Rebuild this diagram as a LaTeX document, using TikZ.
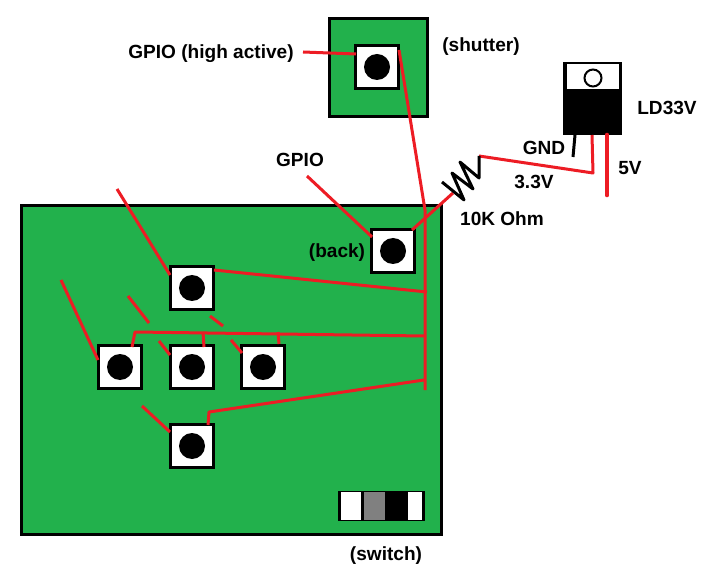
\documentclass[tikz,border=0pt]{standalone}
\usepackage{fontspec}
\setmainfont{Liberation Sans}
\usetikzlibrary{positioning}
\definecolor{boardgreen}{RGB}{34,177,76}
\definecolor{wirered}{RGB}{237,28,36}
\tikzset{
    board/.style={draw=black, fill=boardgreen, line width=2.25pt},
    pushbtn/.style={draw=black, fill=white, line width=2.25pt, minimum size=32.25pt, inner sep=0pt},
    btndot/.style={circle, fill=black, minimum size=19.5pt, inner sep=0pt},
    wire/.style={wirered, line width=2.25pt, line join=round},
    lbl/.style={font=\bfseries\fontsize{14.3pt}{16pt}\selectfont, inner sep=0pt}
}

\begin{document}
\begin{tikzpicture}[x=0.75pt, y=-0.75pt]
    \useasboundingbox (0,0) rectangle (706,573);

    % Boards
    \draw[board] (329.5,18.5) rectangle (427.5,117);
    \draw[board] (21.5,205.5) rectangle (441.5,534.5);

    % Buttons
    \node[pushbtn] (shutter) at (377,67) {};
    \node[pushbtn] (back) at (393,251) {};
    \node[pushbtn] (top) at (192,288) {};
    \node[pushbtn] (left) at (120,367) {};
    \node[pushbtn] (mid) at (192,367) {};
    \node[pushbtn] (right) at (263,367) {};
    \node[pushbtn] (bottom) at (192,446) {};
    \node[btndot] (shutterdot) at (shutter) {};
    \node[btndot] (backdot) at (back) {};
    \node[btndot] (topdot) at (top) {};
    \node[btndot] (leftdot) at (left) {};
    \node[btndot] (middot) at (mid) {};
    \node[btndot] (rightdot) at (right) {};
    \node[btndot] (bottomdot) at (bottom) {};

    % Switch
    \node[draw=black, fill=black, line width=2.25pt, minimum width=63pt, minimum height=20.5pt, inner sep=0pt] (switch) at (381.5,506) {};
    \node[fill=white, minimum width=15pt, minimum height=20.5pt, inner sep=0pt] (swa) at (351,506) {};
    \node[fill=black!50, minimum width=15.75pt, minimum height=20.5pt, inner sep=0pt] (swb) at (374.5,506) {};
    \node[fill=white, minimum width=10.5pt, minimum height=20.5pt, inner sep=0pt] (swc) at (415,506) {};

    % Regulator
    \node[fill=black, minimum width=44.25pt, minimum height=54.75pt, inner sep=0pt] (ldbody) at (592.5,98.5) {};
    \node[fill=white, minimum width=39pt, minimum height=18.75pt, inner sep=0pt] (ldtab) at (592.5,77) {};
    \node[circle, draw=black, fill=white, line width=1.5pt, minimum size=12.75pt, inner sep=0pt] (ldhole) at (593,78) {};

    % Free wire ends
    \coordinate (shutterin) at (303,52);
    \coordinate (shutterpin) at (356,54);
    \coordinate (shutterout) at (399,50);
    \coordinate (busbend) at (425,210);
    \coordinate (busend) at (425,390);
    \coordinate (backin) at (307,176);
    \coordinate (backpin) at (372,237);
    \coordinate (backout) at (412,230);
    \coordinate (topin) at (117,189);
    \coordinate (toppin) at (170,275);
    \coordinate (topout) at (214,270);
    \coordinate (topbus) at (427,292);
    \coordinate (leftin) at (61,280);
    \coordinate (leftpin) at (98,360);
    \coordinate (stubaa) at (128,296);
    \coordinate (stubab) at (149,323);
    \coordinate (stubba) at (159,341);
    \coordinate (stubbb) at (170,355);
    \coordinate (stubca) at (210,316);
    \coordinate (stubcb) at (223,326);
    \coordinate (stubda) at (231,340);
    \coordinate (stubdb) at (242,353);
    \coordinate (stubea) at (142,406);
    \coordinate (stubeb) at (170,432);
    \coordinate (railpin) at (132,347);
    \coordinate (railbend) at (135,332);
    \coordinate (railbus) at (424,336);
    \coordinate (midrail) at (203,332);
    \coordinate (midpin) at (204,347);
    \coordinate (rightrail) at (278,332);
    \coordinate (rightpin) at (279,344);
    \coordinate (bottompin) at (208,425);
    \coordinate (bottombend) at (209,412);
    \coordinate (bottombus) at (424,380);
    \coordinate (resin) at (453,193);
    \coordinate (resout) at (479,156);
    \coordinate (ldout) at (593,173);
    \coordinate (gndtop) at (575,135);
    \coordinate (gndend) at (573,157);
    \coordinate (ldmid) at (592,135);
    \coordinate (vintop) at (607,135);
    \coordinate (vinend) at (607,195);

    % Wires
    \draw[wire] (shutterin) -- (shutterpin);
    \draw[wire] (shutterout) -- (busbend) -- (busend);
    \draw[wire] (backin) -- (backpin);
    \draw[wire] (backout) -- (resin);
    \draw[wire] (topin) -- (toppin);
    \draw[wire] (topout) -- (topbus);
    \draw[wire] (leftin) -- (leftpin);
    \draw[wire] (stubaa) -- (stubab);
    \draw[wire] (stubba) -- (stubbb);
    \draw[wire] (stubca) -- (stubcb);
    \draw[wire] (stubda) -- (stubdb);
    \draw[wire] (stubea) -- (stubeb);
    \draw[wire] (railpin) -- (railbend) -- (railbus);
    \draw[wire] (midrail) -- (midpin);
    \draw[wire] (rightrail) -- (rightpin);
    \draw[wire] (bottompin) -- (bottombend) -- (bottombus);
    \draw[wire] (resout) -- (ldout) -- (ldmid);
    \draw[wirered, line width=3.5pt, line cap=round] (vintop) -- (vinend);
    \draw[black, line width=2.25pt] (gndtop) -- (gndend);

    % Resistor
    \draw[black, line width=2.25pt, line join=round] (442,182) -- (464,200) -- (452,173) -- (473,189) -- (460,162) -- (479,178) -- (resout);

    % Labels
    \node[lbl] (lblgpioa) at (211,54) {GPIO (high active)};
    \node[lbl] (lblshutter) at (481,47) {(shutter)};
    \node[lbl] (lblld) at (667,108) {LD33V};
    \node[lbl] (lblgnd) at (544,148) {GND};
    \node[lbl] (lblfive) at (630,168) {5V};
    \node[lbl] (lblthree) at (534,182) {3.3V};
    \node[lbl] (lblgpiob) at (300,160) {GPIO};
    \node[lbl] (lblohm) at (502,219) {10K Ohm};
    \node[lbl] (lblback) at (337,253) {(back)};
    \node[lbl] (lblswitch) at (386,556) {(switch)};
\end{tikzpicture}
\end{document}
